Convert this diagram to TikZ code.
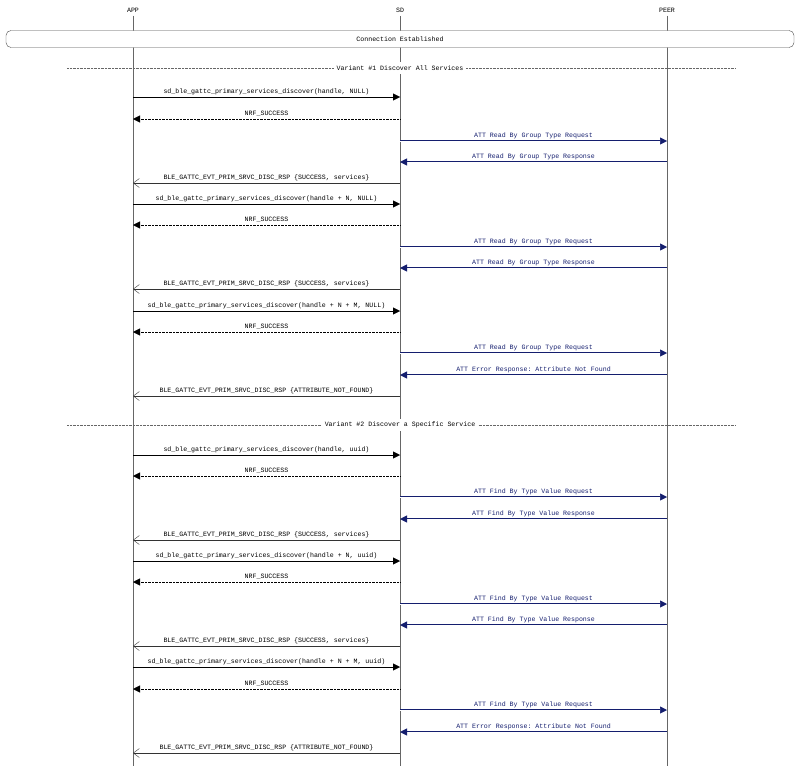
\documentclass[tikz,border=0pt]{standalone}
\usepackage{fontspec}
\setmonofont{Liberation Mono}
\usetikzlibrary{arrows.meta}
\definecolor{msgblue}{RGB}{20,30,110}
\tikzset{
  % Specifications for style of messages:
      base/.style = {font=\ttfamily\fontsize{6.6}{7}\selectfont},
      call/.style = {draw=black, -{Triangle[length=7pt,width=7pt]}},
       ret/.style = {draw=black, densely dotted, -{Triangle[length=7pt,width=7pt]}},
       att/.style = {draw=msgblue, line width=0.5pt, double=white, double distance=1pt,
                     every node/.append style={text=msgblue},
                     -{Triangle[length=7pt,width=7pt,fill=msgblue]}},
       evt/.style = {draw=black!80, -{Straight Barb[length=6pt,width=9pt]}},
   divider/.style = {draw=black!60, densely dotted},
}
\begin{document}
\begin{tikzpicture}[x=1pt, y=-1pt, every node/.style={base}]
    \useasboundingbox (0,0) rectangle (800,766);
    % Lifelines
    \node (app)  at (133,10) {APP};
    \node (sd)   at (400,10) {SD};
    \node (peer) at (667,10) {PEER};
    \foreach \n in {app, sd, peer}
        \draw[black!60] (\n) -- (\n |- 0,766);

    % Connection box
    \node (conn) [draw=black!70, fill=white, rounded corners=5pt, minimum width=788pt,
                  minimum height=17pt] at (400,39) {Connection Established};

    % Variant dividers
    \foreach \y/\t [count=\i] in {68/{Variant \#1 Discover All Services},
                                 425/{Variant \#2 Discover a Specific Service}} {
        \coordinate (dl\i) at (67,\y);
        \coordinate (dr\i) at (735,\y);
        \draw[divider] (dl\i) -- (dr\i);
        \node (var\i) [fill=white, inner xsep=3pt] at (400,\y) {\t};
    }

    % Messages
    \foreach \y/\a/\b/\s/\t [count=\i] in {
        97/app/sd/call/{sd\_ble\_gattc\_primary\_services\_discover(handle, NULL)},
        119/sd/app/ret/{NRF\_SUCCESS},
        141/sd/peer/att/{ATT Read By Group Type Request},
        162/peer/sd/att/{ATT Read By Group Type Response},
        183/sd/app/evt/{BLE\_GATTC\_EVT\_PRIM\_SRVC\_DISC\_RSP \{SUCCESS, services\}},
        204/app/sd/call/{sd\_ble\_gattc\_primary\_services\_discover(handle + N, NULL)},
        225/sd/app/ret/{NRF\_SUCCESS},
        247/sd/peer/att/{ATT Read By Group Type Request},
        268/peer/sd/att/{ATT Read By Group Type Response},
        289/sd/app/evt/{BLE\_GATTC\_EVT\_PRIM\_SRVC\_DISC\_RSP \{SUCCESS, services\}},
        311/app/sd/call/{sd\_ble\_gattc\_primary\_services\_discover(handle + N + M, NULL)},
        332/sd/app/ret/{NRF\_SUCCESS},
        353/sd/peer/att/{ATT Read By Group Type Request},
        375/peer/sd/att/{ATT Error Response: Attribute Not Found},
        396/sd/app/evt/{BLE\_GATTC\_EVT\_PRIM\_SRVC\_DISC\_RSP \{ATTRIBUTE\_NOT\_FOUND\}},
        455/app/sd/call/{sd\_ble\_gattc\_primary\_services\_discover(handle, uuid)},
        476/sd/app/ret/{NRF\_SUCCESS},
        497/sd/peer/att/{ATT Find By Type Value Request},
        519/peer/sd/att/{ATT Find By Type Value Response},
        540/sd/app/evt/{BLE\_GATTC\_EVT\_PRIM\_SRVC\_DISC\_RSP \{SUCCESS, services\}},
        561/app/sd/call/{sd\_ble\_gattc\_primary\_services\_discover(handle + N, uuid)},
        582/sd/app/ret/{NRF\_SUCCESS},
        604/sd/peer/att/{ATT Find By Type Value Request},
        625/peer/sd/att/{ATT Find By Type Value Response},
        646/sd/app/evt/{BLE\_GATTC\_EVT\_PRIM\_SRVC\_DISC\_RSP \{SUCCESS, services\}},
        667/app/sd/call/{sd\_ble\_gattc\_primary\_services\_discover(handle + N + M, uuid)},
        689/sd/app/ret/{NRF\_SUCCESS},
        710/sd/peer/att/{ATT Find By Type Value Request},
        732/peer/sd/att/{ATT Error Response: Attribute Not Found},
        753/sd/app/evt/{BLE\_GATTC\_EVT\_PRIM\_SRVC\_DISC\_RSP \{ATTRIBUTE\_NOT\_FOUND\}}} {
        \coordinate (m\i s) at (\a |- 0,\y);
        \coordinate (m\i e) at (\b |- 0,\y);
        \draw[\s] (m\i s) -- node[above=-1pt] {\t} (m\i e);
    }
\end{tikzpicture}
\end{document}
